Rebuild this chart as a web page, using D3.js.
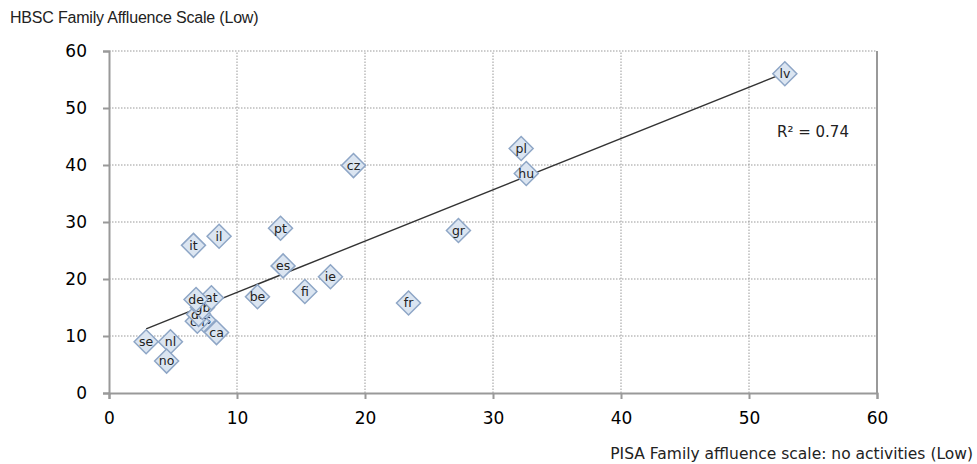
<!DOCTYPE html>
<html>
<head>
<meta charset="utf-8">
<script src="https://cdn.jsdelivr.net/npm/d3@7"></script>
<style>
  body { margin: 0; background: #fff; }
  svg { display: block; }
  .tick text { font-family: "DejaVu Sans", sans-serif; font-size: 17px; fill: #000; }
  .grid line { stroke: #999; stroke-dasharray: 1.5 1.5; }
  .ptlabel { font-family: "DejaVu Sans", sans-serif; font-size: 12.5px; fill: #222; }
</style>
</head>
<body>
<svg id="chart" width="977" height="464"></svg>
<script>
// country codes and values
const countries = ["se", "nl", "no", "ca", "it", "il", "pt", "es", "be", "fi", "ie", "cz", "fr", "gr", "pl", "hu", "lv", "us", "ch", "dk", "gb", "at", "de"];
const pisaLow =   [2.9, 4.8, 4.5, 8.4, 6.6, 8.6, 13.4, 13.6, 11.6, 15.3, 17.3, 19.1, 23.4, 27.3, 32.2, 32.6, 52.8, 7.4, 6.9, 7.0, 7.3, 8.0, 6.8];
const hbscLow =   [9.0, 9.0, 5.6, 10.6, 25.9, 27.5, 28.9, 22.3, 16.9, 17.8, 20.4, 39.9, 15.8, 28.5, 42.9, 38.5, 56.0, 12.8, 12.6, 13.8, 15.0, 16.7, 16.4];
const xTicks = [0, 10, 20, 30, 40, 50, 60];
const yTicks = [0, 10, 20, 30, 40, 50, 60];
const rSquaredLabel = "R² = 0.74";

const svg = d3.select("#chart");
const margin = {left: 109, right: 100, top: 51, bottom: 71};
const W = 977, H = 464;

let x = d3.scaleLinear().domain([0, 60]).range([margin.left, W - margin.right]);
let y = d3.scaleLinear().domain([0, 60]).range([H - margin.bottom, margin.top]);

// grid
svg.append("g").attr("class", "grid")
    .selectAll("line.v").data(xTicks.slice(1, -1)).enter().append("line")
    .attr("x1", d => x(d)).attr("x2", d => x(d))
    .attr("y1", y(0)).attr("y2", y(60));
svg.append("g").attr("class", "grid")
    .selectAll("line.h").data(yTicks.slice(1)).enter().append("line")
    .attr("x1", x(0)).attr("x2", x(60))
    .attr("y1", d => y(d)).attr("y2", d => y(d));

// right border
svg.append("line").attr("x1", x(60)).attr("x2", x(60)).attr("y1", y(0)).attr("y2", y(60))
    .attr("stroke", "#999").attr("stroke-width", 2);

// axes
let xAxis = svg.append("g").attr("transform", "translate(0," + y(0) + ")")
    .call(d3.axisBottom(x).tickValues(xTicks).tickSize(6).tickPadding(13));
let yAxis = svg.append("g").attr("transform", "translate(" + x(0) + ",0)")
    .call(d3.axisLeft(y).tickValues(yTicks).tickSize(6).tickPadding(16));
[xAxis, yAxis].forEach(a => {
    a.select(".domain").attr("stroke", "#999").attr("stroke-width", 2);
    a.selectAll(".tick line").attr("stroke", "#999").attr("stroke-width", 2);
});

// trend line (least squares)
let n = pisaLow.length;
let mx = d3.mean(pisaLow), my = d3.mean(hbscLow);
let sxy = 0, sxx = 0;
for (let i = 0; i < n; i++) {
    sxy += (pisaLow[i] - mx) * (hbscLow[i] - my);
    sxx += (pisaLow[i] - mx) * (pisaLow[i] - mx);
}
let slope = sxy / sxx, icpt = my - slope * mx;
let xr = d3.extent(pisaLow);
svg.append("line")
    .attr("x1", x(xr[0])).attr("y1", y(icpt + slope * xr[0]))
    .attr("x2", x(xr[1])).attr("y2", y(icpt + slope * xr[1]))
    .attr("stroke", "#333").attr("stroke-width", 1.4);

// points
let pts = svg.append("g").selectAll("g").data(countries).enter().append("g")
    .attr("transform", (d, i) => "translate(" + x(pisaLow[i]) + "," + y(hbscLow[i]) + ")");
pts.append("path").attr("d", "M0,-12L12,0L0,12L-12,0Z")
    .attr("fill", "#dbe5f1").attr("stroke", "#8ea6c6").attr("stroke-width", 1.5);
pts.append("text").attr("class", "ptlabel").attr("text-anchor", "middle").attr("dy", "0.35em")
    .text(d => d);

// R squared
svg.append("text").attr("x", 777).attr("y", 137)
    .attr("font-family", "DejaVu Sans, sans-serif").attr("font-size", 15).attr("fill", "#222")
    .text(rSquaredLabel);

// axis titles
svg.append("text").attr("x", 10).attr("y", 23)
    .attr("font-family", "Liberation Sans, Arial, sans-serif").attr("font-size", 16)
    .attr("letter-spacing", -0.2).attr("fill", "#222")
    .text("HBSC Family Affluence Scale (Low)");
svg.append("text").attr("x", 973).attr("y", 459).attr("text-anchor", "end")
    .attr("font-family", "DejaVu Sans, sans-serif").attr("font-size", 15.5).attr("fill", "#222")
    .text("PISA Family affluence scale: no activities (Low)");
</script>
</body>
</html>
